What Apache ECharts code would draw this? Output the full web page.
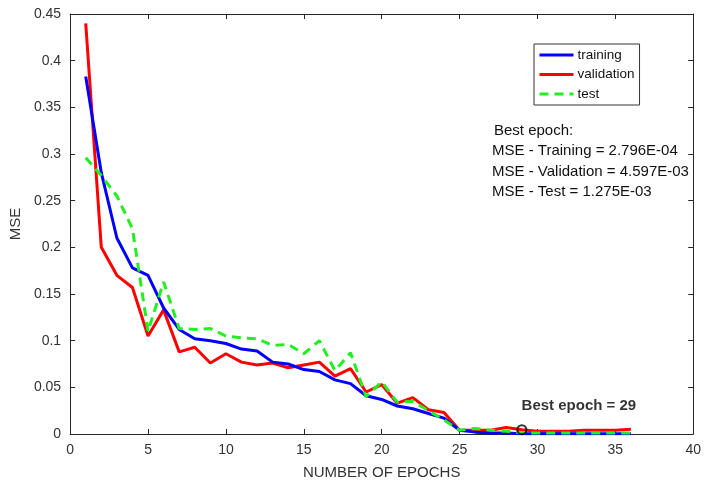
<!DOCTYPE html>
<html><head><meta charset="utf-8">
<script src="https://cdn.jsdelivr.net/npm/echarts@6/dist/echarts.min.js"></script>
<style>html,body{margin:0;padding:0;background:#fff}#c{width:704px;height:485px}</style>
</head><body><div id="c"></div>
<script>
const epochs = Array.from({length:36},(_,i)=>i+1);
const training = [0.383,0.280,0.210,0.178,0.170,0.135,0.112,0.102,0.100,0.097,0.091,0.089,0.077,0.075,0.069,0.067,0.058,0.054,0.041,0.037,0.030,0.027,0.022,0.017,0.004,0.002,0.001,0.001,0.0003,0.0003,0.0003,0.0003,0.0003,0.0003,0.0003,0.0003];
const validation = [0.440,0.200,0.170,0.157,0.105,0.133,0.088,0.093,0.076,0.086,0.077,0.074,0.076,0.071,0.074,0.077,0.062,0.070,0.045,0.053,0.033,0.039,0.026,0.023,0.004,0.004,0.004,0.007,0.0046,0.003,0.003,0.003,0.004,0.004,0.004,0.005];
const test = [0.296,0.277,0.255,0.220,0.110,0.163,0.113,0.112,0.113,0.105,0.103,0.102,0.095,0.096,0.086,0.100,0.068,0.087,0.040,0.056,0.034,0.035,0.025,0.015,0.004,0.006,0.004,0.003,0.0013,0.001,0.001,0.001,0.001,0.001,0.001,0.001];
const bestEpoch = 29;
const bestValidation = 0.004597;
const infoLines = ['Best epoch:','MSE - Training = 2.796E-04','MSE - Validation = 4.597E-03','MSE - Test = 1.275E-03'];
const font = 'Liberation Sans, Arial, sans-serif';
const zip = a => a.map((v,i)=>[epochs[i],v]);
const chart = echarts.init(document.getElementById('c'));
const axisLine = {show:true,onZero:false,lineStyle:{color:'#262626',width:1}};
const tick = {inside:true,length:5,lineStyle:{color:'#262626'}};
chart.setOption({
  animation:false,
  grid:{left:69,right:6,top:14,bottom:50},
  legend:{
    orient:'vertical',left:534,top:44,
    data:['training','validation','test'],
    borderColor:'#333',borderWidth:1,padding:[4,5,4,4],itemGap:5.5,
    itemWidth:34,itemHeight:13,
    itemStyle:{opacity:0},
    lineStyle:{width:3},
    textStyle:{fontFamily:font,fontSize:13.5,color:'#111',padding:[0,0,0,-1]}
  },
  xAxis:[{
    type:'value',min:0,max:40,interval:5,
    axisLine,axisTick:tick,splitLine:{show:false},
    axisLabel:{fontFamily:font,fontSize:14,color:'#333',margin:9},
    name:'NUMBER OF EPOCHS',nameLocation:'middle',nameGap:31,
    nameTextStyle:{fontFamily:font,fontSize:15,color:'#333'}
  },{
    type:'value',position:'top',min:0,max:40,interval:5,
    axisLine,axisTick:tick,axisLabel:{show:false},splitLine:{show:false}
  }],
  yAxis:[{
    type:'value',min:0,max:0.45,interval:0.05,
    axisLine,axisTick:tick,splitLine:{show:false},
    axisLabel:{fontFamily:font,fontSize:14,color:'#333',margin:9,formatter:v=>String(+v.toFixed(2))},
    name:'MSE',nameLocation:'middle',nameGap:45,
    nameTextStyle:{fontFamily:font,fontSize:15,color:'#333'}
  },{
    type:'value',position:'right',min:0,max:0.45,interval:0.05,
    axisLine,axisTick:tick,axisLabel:{show:false},splitLine:{show:false}
  }],
  series:[
    {name:'training',type:'line',data:zip(training),showSymbol:false,symbol:'none',
     lineStyle:{color:'#0000ff',width:3},itemStyle:{color:'#0000ff'},z:3},
    {name:'validation',type:'line',data:zip(validation),showSymbol:false,symbol:'none',
     lineStyle:{color:'#ff0000',width:3},itemStyle:{color:'#ff0000'},z:2},
    {name:'test',type:'line',data:zip(test),showSymbol:false,symbol:'none',
     lineStyle:{color:'#22ee22',width:3,type:[9,6]},itemStyle:{color:'#22ee22'},z:4},
    {name:'best',type:'scatter',data:[[bestEpoch,bestValidation]],symbol:'circle',symbolSize:9,
     itemStyle:{color:'rgba(255,255,255,0)',borderColor:'#000',borderWidth:2},z:5,
     label:{show:true,formatter:'Best epoch = '+bestEpoch,position:'top',offset:[57,-6],
       fontFamily:font,fontSize:15,fontWeight:'bold',color:'#000'}}
  ],
  graphic:infoLines.map((t,i)=>({type:'text',left:i===0?494:492,top:123+i*20.5,
    style:{text:t,fontFamily:font,fontSize:15,fill:'#111'}}))
});
</script></body></html>
